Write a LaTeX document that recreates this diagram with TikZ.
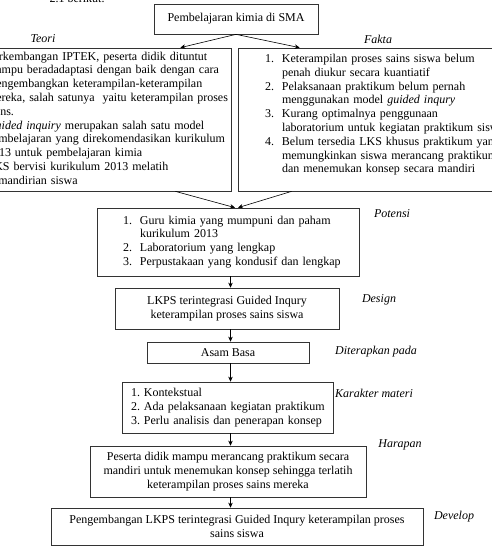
\documentclass[tikz,border=0pt]{standalone}
\usepackage{fontspec}
\setmainfont{Liberation Serif}
\usepackage{tikz}
\usetikzlibrary{arrows.meta}
\usetikzlibrary{positioning}
\tikzset{>={Stealth[length=5pt,width=4.5pt]},
  every node/.style={font=\fontsize{12}{13.8}\selectfont},
  box/.style={draw=black!80, line width=0.7pt, inner sep=0pt},
  lbl/.style={font=\fontsize{12}{13.8}\selectfont\itshape},
  conn/.style={->, line width=0.6pt}}

\begin{document}
\begin{tikzpicture}[x=1pt,y=-1pt]
\path[use as bounding box, fill=white] (0,0) rectangle (491,546);

\node[anchor=base west] (intro) at (46,2.5) {2.1 berikut.};

% kotak atas
\node[box, minimum width=164pt, minimum height=30pt] (sma) at (236,19) {Pembelajaran kimia di SMA};

% teori dan fakta
\node[box, minimum width=281pt, minimum height=143pt, text width=241pt, align=left] (teori) at (90.5,119.5)
  {\begin{tabular}{@{}p{17pt}@{}l@{}}
  1. & Perkembangan IPTEK, peserta didik dituntut\\
     & mampu beradadaptasi dengan baik dengan cara\\
     & mengembangkan keterampilan-keterampilan\\
     & mereka, salah satunya\ \ yaitu keterampilan proses\\
     & sains.\\
  2. & \textit{Guided inquiry} merupakan salah satu model\\
     & pembelajaran yang direkomendasikan kurikulum\\
     & 2013 untuk pembelajaran kimia\\
  3. & LKS bervisi kurikulum 2013 melatih\\
     & kemandirian siswa
  \end{tabular}};
\node[box, minimum width=282pt, minimum height=143pt, text width=228pt, align=left] (fakta) at (379,119.5)
  {\begin{tabular}{@{}p{17pt}@{}l@{}}
  1. & Keterampilan proses sains siswa belum\\
     & penah diukur secara kuantiatif\\
  2. & Pelaksanaan praktikum belum pernah\\
     & menggunakan model \textit{guided inqury}\\
  3. & Kurang optimalnya penggunaan\\
     & laboratorium untuk kegiatan praktikum siswa\\
  4. & Belum tersedia LKS khusus praktikum yang\\
     & memungkinkan siswa merancang praktikum\\
     & dan menemukan konsep secara mandiri\\[9pt]
  \end{tabular}};

\node[lbl] (teorilbl) at (43,39) {Teori};
\node[lbl] (faktalbl) at (378,39) {Fakta};

% alur ke bawah
\node[box, minimum width=262pt, minimum height=68pt, text width=210pt, align=left] (potensi) at (228,242)
  {\begin{tabular}{@{}p{17pt}@{}l@{}}
  1. & Guru kimia yang mumpuni dan paham\\
     & kurikulum 2013\\
  2. & Laboratorium yang lengkap\\
  3. & Perpustakaan yang kondusif dan lengkap
  \end{tabular}};
\node[box, minimum width=224pt, minimum height=41pt, align=center] (design) at (227,308.5)
  {LKPS terintegrasi Guided Inqury\\ keterampilan proses sains siswa};
\node[box, minimum width=162pt, minimum height=21pt] (asam) at (228,352.5) {Asam Basa};
\node[box, minimum width=211pt, minimum height=51pt, text width=193pt, align=left] (karakter) at (227.5,407.5)
  {\begin{tabular}{@{}p{13pt}@{}l@{}}
  1. & Kontekstual\\
  2. & Ada pelaksanaan kegiatan praktikum\\
  3. & Perlu analisis dan penerapan konsep
  \end{tabular}};
\node[box, minimum width=276pt, minimum height=51pt, align=center] (harapan) at (228,471.5)
  {Peserta didik mampu merancang praktikum secara\\ mandiri untuk menemukan konsep sehingga terlatih\\ keterampilan proses sains mereka};
\node[box, minimum width=372pt, minimum height=37pt, align=center] (develop) at (237,526.5)
  {Pengembangan LKPS terintegrasi Guided Inqury keterampilan proses\\ sains siswa};

\node[lbl] (potensilbl) at (392,214) {Potensi};
\node[lbl] (designlbl) at (379,300) {Design};
\node[lbl] (asamlbl) at (376,352) {Diterapkan pada};
\node[lbl] (karakterlbl) at (374,393) {Karakter materi};
\node[lbl] (harapanlbl) at (400,445) {Harapan};
\node[lbl] (developlbl) at (454,517) {Develop};

% panah
\coordinate (spine) at (230.5,0);
\draw[conn] (sma.south) -- ([xshift=-51pt]teori.north east);
\draw[conn] (sma.south) -- ([xshift=62pt]fakta.north west);
\draw[conn] ([xshift=-56pt]teori.south east) -- ([xshift=7pt]potensi.north);
\draw[conn] ([xshift=54pt]fakta.south west) -- ([xshift=10pt]potensi.north);
\draw[conn] (potensi.south -| spine) -- (design.north -| spine);
\draw[conn] (design.south -| spine) -- (asam.north -| spine);
\draw[conn] (asam.south -| spine) -- (karakter.north -| spine);
\draw[conn] (karakter.south -| spine) -- (harapan.north -| spine);
\draw[conn] (harapan.south -| spine) -- (develop.north -| spine);

\end{tikzpicture}
\end{document}
